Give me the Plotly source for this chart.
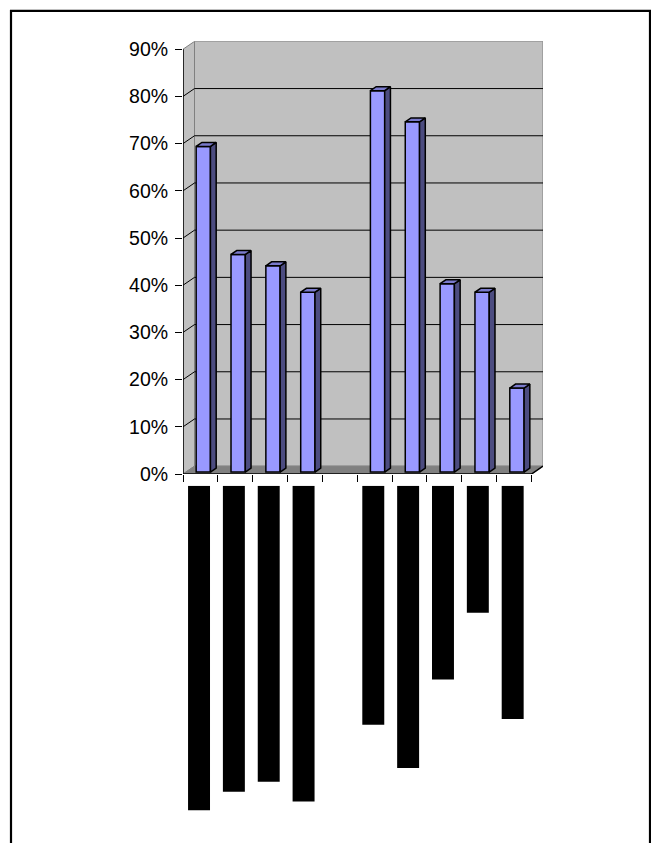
import plotly.graph_objects as go

# Survey shares per category (the fifth slot is an empty spacer category)
categories = ["c1", "c2", "c3", "c4", "", "c6", "c7", "c8", "c9", "c10"]
shares = [69.0, 46.1, 43.7, 38.1, None, 80.8, 74.2, 39.9, 38.1, 17.8]
# Relative extent of each (blacked-out) category label, hanging below the axis
label_extent = [330, 311, 301, 321, None, 243, 287, 197, 129, 237]
tick_values = [0, 10, 20, 30, 40, 50, 60, 70, 80, 90]
tick_labels = [f"{v}%" for v in tick_values]

W, H = 651, 843
# 3-D projection offsets (in data units): wall depth along x and y
DX, DY = 0.33, 1.667
BAR_W = 0.41
FRONT, BACK = 0.25, 0.75          # bar depth band inside the floor
YMAX = 90

FACE = "#9999FF"
SIDE = "#4C4C80"
TOP = "#7A7ACC"
WALL = "#C0C0C0"
FLOOR = "#808080"

n = len(categories)
centers = [i + 0.5 for i in range(n)]

fig = go.Figure()

# Bar front faces
bx, by, bb = [], [], []
for c, v in zip(centers, shares):
    if v is None:
        continue
    bx.append(c + FRONT * DX)
    by.append(v)
    bb.append(FRONT * DY)
fig.add_trace(go.Bar(
    x=bx, y=by, base=bb, width=BAR_W,
    marker=dict(color=FACE, line=dict(color="black", width=1.5)),
    xaxis="x", yaxis="y", hoverinfo="skip",
))

# Side and top faces of each bar
sx, sy, tx, ty = [], [], [], []
h = BACK - FRONT
for c, v in zip(centers, shares):
    if v is None:
        continue
    xl = c + FRONT * DX - BAR_W / 2
    xr = c + FRONT * DX + BAR_W / 2
    y0 = FRONT * DY
    y1 = v + FRONT * DY
    sx += [xr, xr, xr + h * DX, xr + h * DX, xr, None]
    sy += [y0, y1, y1 + h * DY, y0 + h * DY, y0, None]
    tx += [xl, xr, xr + h * DX, xl + h * DX, xl, None]
    ty += [y1, y1, y1 + h * DY, y1 + h * DY, y1, None]
fig.add_trace(go.Scatter(x=sx, y=sy, mode="lines", fill="toself", fillcolor=SIDE,
                         line=dict(color="black", width=1.5), hoverinfo="skip",
                         xaxis="x", yaxis="y"))
fig.add_trace(go.Scatter(x=tx, y=ty, mode="lines", fill="toself", fillcolor=TOP,
                         line=dict(color="black", width=1.5), hoverinfo="skip",
                         xaxis="x", yaxis="y"))

# Category label blocks below the axis
lx, ly = [], []
for c, e in zip(centers, label_extent):
    if e is None:
        continue
    lx.append(c - 0.04)
    ly.append(e)
fig.add_trace(go.Bar(x=lx, y=ly, width=0.63, marker=dict(color="black", line=dict(width=0)),
                     xaxis="x", yaxis="y2", hoverinfo="skip"))

shapes = []
# Back wall
shapes.append(dict(type="rect", xref="x", yref="y", x0=DX, y0=DY, x1=n + DX, y1=YMAX + DY,
                   fillcolor=WALL, line=dict(color=FLOOR, width=1), layer="below"))
# Side wall
shapes.append(dict(type="path", xref="x", yref="y",
                   path=f"M 0,0 L 0,{YMAX} L {DX},{YMAX + DY} L {DX},{DY} Z",
                   fillcolor=WALL, line=dict(color=FLOOR, width=1), layer="below"))
# Floor
shapes.append(dict(type="path", xref="x", yref="y",
                   path=f"M 0,0 L {n},0 L {n + DX},{DY} L {DX},{DY} Z",
                   fillcolor=FLOOR, line=dict(color=FLOOR, width=1), layer="below"))
# Gridlines across side wall and back wall
for v in tick_values[1:-1]:
    shapes.append(dict(type="path", xref="x", yref="y",
                       path=f"M 0,{v} L {DX},{v + DY} L {n + DX},{v + DY}",
                       line=dict(color="black", width=1), layer="below"))
# Axis lines
shapes.append(dict(type="line", xref="x", yref="y", x0=0, y0=0, x1=0, y1=YMAX,
                   line=dict(color="black", width=1.5)))
shapes.append(dict(type="path", xref="x", yref="y",
                   path=f"M 0,0 L {n},0 L {n + DX},{DY}",
                   line=dict(color="black", width=1.5)))
# Chart frame
shapes.append(dict(type="rect", xref="paper", yref="paper",
                   x0=11 / W, x1=650 / W, y0=-0.05, y1=(H - 8) / H,
                   line=dict(color="black", width=2.2), fillcolor="rgba(0,0,0,0)"))

fig.update_layout(
    width=W, height=H, autosize=False,
    margin=dict(l=0, r=0, t=0, b=0),
    paper_bgcolor="white", plot_bgcolor="rgba(0,0,0,0)",
    showlegend=False, barmode="overlay",
    shapes=shapes,
    font=dict(family="Liberation Sans, Arial, sans-serif", color="black"),
    xaxis=dict(domain=[183 / W, 543 / W], range=[0, n + DX], showgrid=False,
               zeroline=False, showline=False, ticks="outside", ticklen=7,
               tickwidth=1, tickcolor="black", tickvals=list(range(n + 1)),
               showticklabels=False, anchor="y", fixedrange=True),
    yaxis=dict(domain=[(H - 479) / H, (H - 39) / H], range=[0, YMAX + DY],
               showgrid=False, zeroline=False, showline=False,
               ticks="outside", ticklen=7, tickwidth=1, tickcolor="black",
               tickvals=tick_values, ticktext=tick_labels, ticklabelstandoff=3,
               tickfont=dict(size=19.5), anchor="x", fixedrange=True),
    yaxis2=dict(domain=[0, (H - 491) / H], range=[352, 0], showgrid=False,
                zeroline=False, showline=False, showticklabels=False,
                anchor="x", fixedrange=True),
)

fig.write_html("out.html", config={"displayModeBar": False})
